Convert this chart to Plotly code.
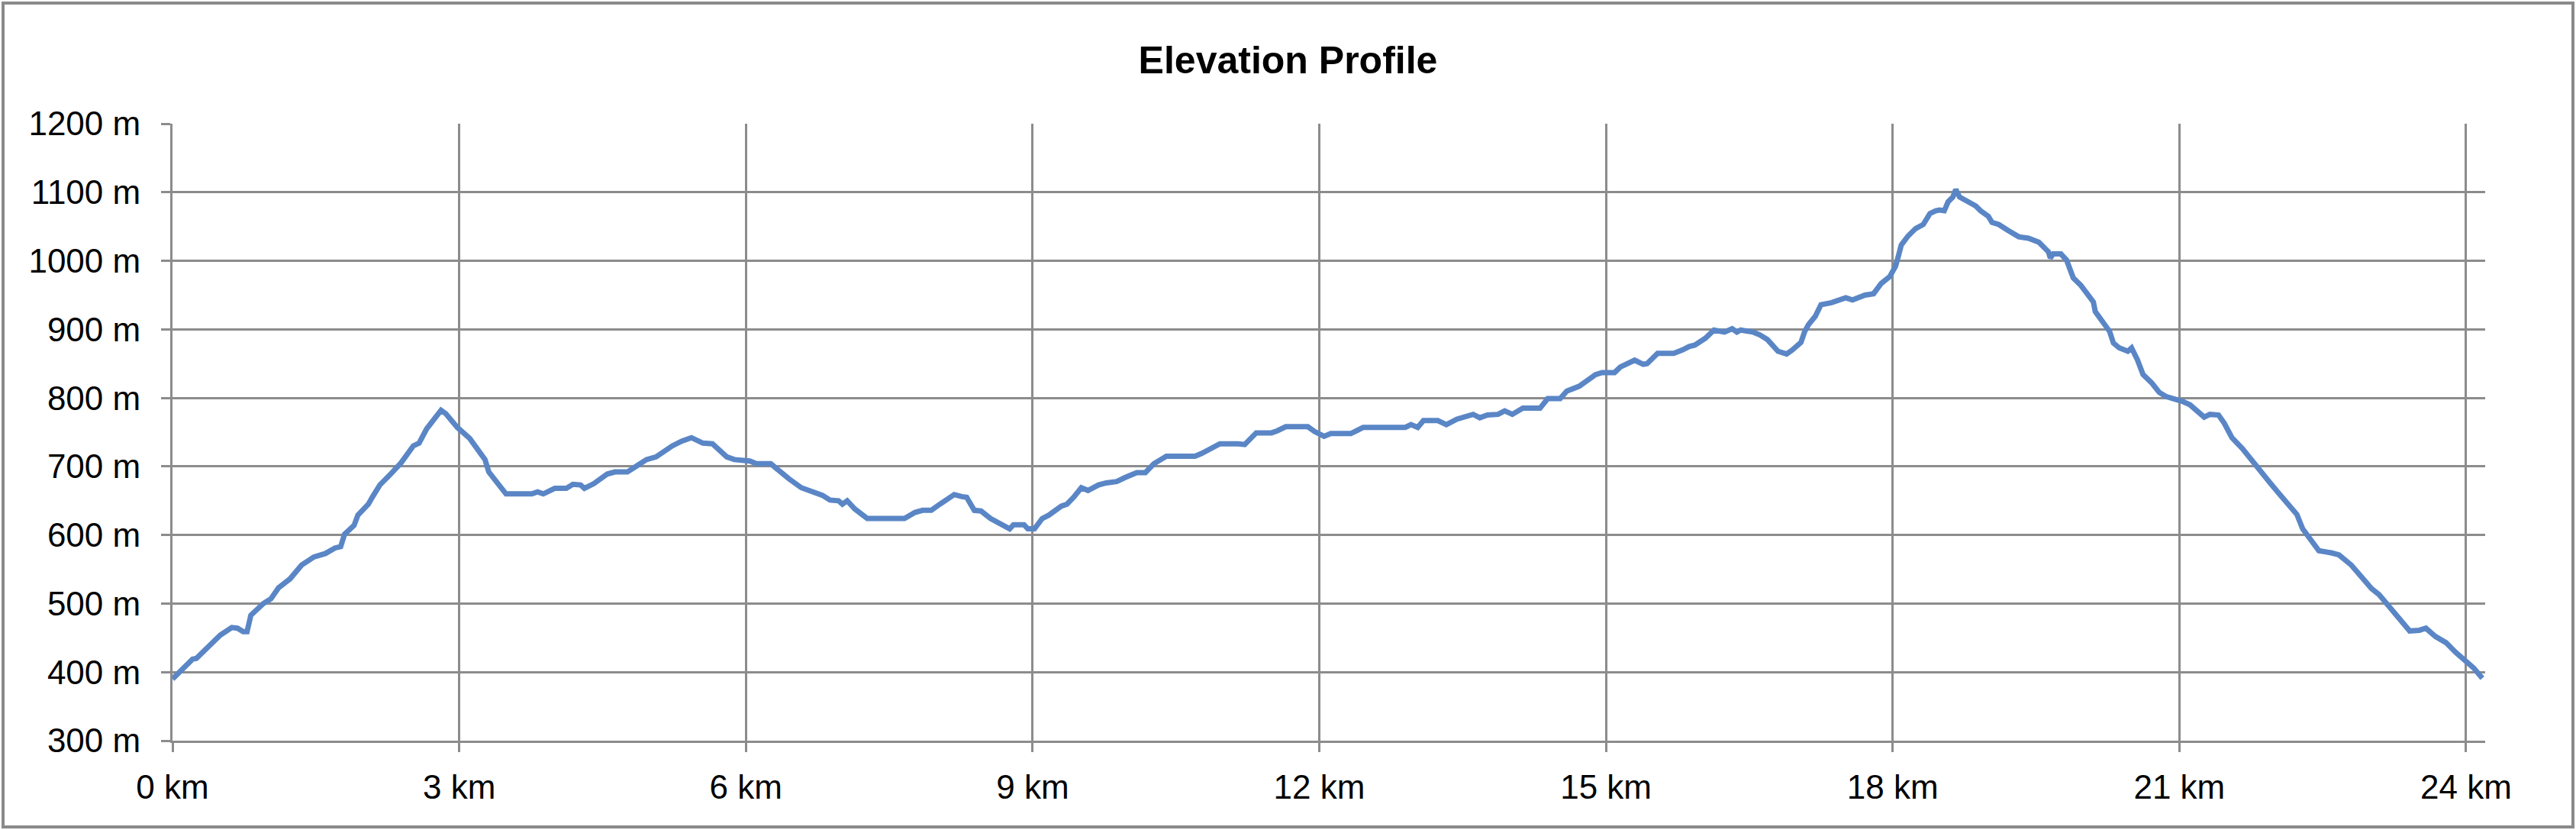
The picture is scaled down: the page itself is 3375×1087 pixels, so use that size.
import plotly.graph_objects as go

# distance along the route (km) and elevation (m)
distance_km = [
    0.00, 0.11, 0.21, 0.25, 0.50, 0.62, 0.68, 0.74, 0.78, 0.82, 0.95, 1.03,
    1.11, 1.23, 1.35, 1.48, 1.60, 1.70, 1.76, 1.80, 1.90, 1.94, 2.05, 2.09,
    2.17, 2.29, 2.39, 2.52, 2.58, 2.66, 2.74, 2.81, 2.86, 2.98, 3.11, 3.19,
    3.27, 3.31, 3.41, 3.49, 3.76, 3.82, 3.88, 4.00, 4.12, 4.19, 4.27, 4.31,
    4.41, 4.55, 4.63, 4.76, 4.86, 4.96, 5.06, 5.23, 5.33, 5.43, 5.55, 5.65,
    5.80, 5.88, 6.04, 6.11, 6.26, 6.37, 6.45, 6.58, 6.67, 6.80, 6.88, 6.97,
    7.01, 7.06, 7.14, 7.27, 7.66, 7.77, 7.85, 7.94, 8.03, 8.18, 8.26, 8.31,
    8.39, 8.46, 8.56, 8.67, 8.76, 8.80, 8.91, 8.95, 9.02, 9.10, 9.17, 9.30,
    9.36, 9.43, 9.51, 9.58, 9.69, 9.77, 9.88, 9.97, 10.09, 10.18, 10.27, 10.40,
    10.70, 10.77, 10.87, 10.96, 11.15, 11.22, 11.34, 11.50, 11.56, 11.65, 11.88, 11.95,
    12.05, 12.12, 12.33, 12.40, 12.46, 12.90, 12.96, 13.03, 13.09, 13.24, 13.33, 13.44,
    13.55, 13.61, 13.68, 13.76, 13.87, 13.94, 14.02, 14.13, 14.31, 14.39, 14.52, 14.59,
    14.72, 14.80, 14.89, 14.96, 15.09, 15.15, 15.24, 15.30, 15.39, 15.43, 15.54, 15.71,
    15.80, 15.87, 15.93, 16.04, 16.13, 16.24, 16.32, 16.37, 16.41, 16.54, 16.61, 16.69,
    16.80, 16.89, 16.95, 17.04, 17.08, 17.12, 17.19, 17.25, 17.36, 17.43, 17.51, 17.58,
    17.64, 17.71, 17.80, 17.88, 17.97, 18.03, 18.06, 18.09, 18.16, 18.24, 18.32, 18.39,
    18.45, 18.49, 18.54, 18.58, 18.63, 18.66, 18.70, 18.79, 18.87, 18.92, 19.00, 19.04,
    19.11, 19.21, 19.32, 19.42, 19.53, 19.63, 19.65, 19.68, 19.76, 19.82, 19.89, 19.97,
    20.03, 20.10, 20.12, 20.20, 20.27, 20.31, 20.37, 20.46, 20.50, 20.56, 20.62, 20.71,
    20.79, 20.86, 20.94, 21.03, 21.11, 21.19, 21.26, 21.32, 21.41, 21.47, 21.55, 21.66,
    21.76, 21.85, 21.95, 22.04, 22.12, 22.23, 22.29, 22.38, 22.46, 22.59, 22.67, 22.80,
    22.92, 23.01, 23.09, 23.18, 23.30, 23.41, 23.51, 23.58, 23.68, 23.79, 23.89, 24.00,
    24.08, 24.17,
]
elevation_m = [
    390, 406, 419, 420, 454, 465, 464, 459, 459, 483, 500, 507,
    523, 536, 556, 568, 573, 581, 583, 601, 614, 629, 645, 655,
    673, 690, 705, 730, 734, 755, 770, 782, 777, 757, 741, 726,
    710, 692, 675, 660, 660, 663, 660, 668, 668, 674, 673, 668,
    675, 689, 692, 692, 701, 710, 714, 730, 737, 742, 734, 733,
    714, 710, 708, 704, 704, 691, 682, 669, 665, 658, 651, 650,
    645, 650, 638, 624, 624, 633, 636, 636, 645, 659, 656, 655,
    636, 635, 624, 615, 609, 615, 615, 609, 609, 624, 629, 642,
    645, 655, 669, 665, 673, 676, 678, 684, 691, 691, 704, 715,
    715, 719, 727, 733, 733, 732, 749, 749, 752, 758, 758, 751,
    744, 748, 748, 753, 757, 757, 761, 757, 767, 767, 761, 769,
    773, 776, 771, 775, 776, 781, 776, 785, 785, 799, 799, 810,
    817, 825, 834, 837, 837, 845, 850, 855, 849, 850, 865, 865,
    870, 875, 877, 887, 899, 896, 901, 896, 899, 896, 892, 885,
    868, 864, 870, 881, 897, 907, 919, 936, 939, 942, 946, 943,
    947, 950, 952, 967, 977, 992, 1007, 1023, 1036, 1047, 1053, 1069,
    1073, 1074, 1073, 1086, 1093, 1104, 1093, 1086, 1080, 1073, 1065, 1056,
    1053, 1044, 1035, 1033, 1027, 1013, 1004, 1010, 1010, 1001, 975, 964,
    952, 940, 926, 912, 897, 880, 873, 868, 873, 856, 834, 822,
    808, 802, 799, 795, 790, 781, 772, 776, 775, 763, 742, 726,
    708, 693, 676, 661, 647, 630, 609, 592, 577, 574, 571, 556,
    538, 522, 513, 498, 481, 460, 461, 464, 452, 443, 429, 417,
    406, 391,
]

x_ticks = [0, 3, 6, 9, 12, 15, 18, 21, 24]
y_ticks = [300, 400, 500, 600, 700, 800, 900, 1000, 1100, 1200]
x_labels = [f"{v} km" for v in x_ticks]
y_labels = [f"{v} m" for v in y_ticks]

W, H = 3375, 1087
L, R, T, B = 226, 119, 162, 117
GRID = "#8c8c8c"
FONT = "Liberation Sans, Arial, sans-serif"

fig = go.Figure()
fig.add_trace(go.Scatter(
    x=distance_km, y=elevation_m, mode="lines",
    line=dict(color="#5a86c6", width=7),
    hoverinfo="x+y",
))

pw, ph = W - L - R, H - T - B
# outer chart frame, expressed in paper coords of the plot area
fig.add_shape(
    type="rect", xref="paper", yref="paper",
    x0=(4 - L) / pw, x1=(W - 4 - L) / pw,
    y0=-(B - 4) / ph, y1=1 + (T - 4) / ph,
    line=dict(color="#8a8a8a", width=4), fillcolor="rgba(0,0,0,0)",
    layer="below",
)

fig.update_layout(
    width=W, height=H,
    margin=dict(l=L, r=R, t=T, b=B),
    paper_bgcolor="white", plot_bgcolor="white",
    showlegend=False,
    font=dict(family=FONT, size=44, color="black"),
    title=dict(
        text="<b>Elevation Profile</b>",
        font=dict(family=FONT, size=50, color="black"),
        x=0.5, xref="container", xanchor="center",
        y=1 - 78 / H, yref="container", yanchor="middle",
    ),
    xaxis=dict(
        range=[0, 24.2], tickmode="array", tickvals=x_ticks, ticktext=x_labels,
        showgrid=True, gridcolor=GRID, gridwidth=3,
        showline=True, linecolor=GRID, linewidth=3,
        ticks="outside", ticklen=12, tickwidth=3, tickcolor=GRID,
        ticklabelstandoff=8, zeroline=False,
    ),
    yaxis=dict(
        range=[300, 1200], tickmode="array", tickvals=y_ticks, ticktext=y_labels,
        showgrid=True, gridcolor=GRID, gridwidth=3,
        showline=True, linecolor=GRID, linewidth=3,
        ticks="outside", ticklen=12, tickwidth=3, tickcolor=GRID,
        ticklabelstandoff=18, zeroline=False,
    ),
)

# drop the browser's default 8px body margin so the figure sits at the page origin
fig.write_html(
    "out.html",
    config={"displayModeBar": False},
    post_script="document.body.style.margin='0';document.body.style.overflow='hidden';",
)
